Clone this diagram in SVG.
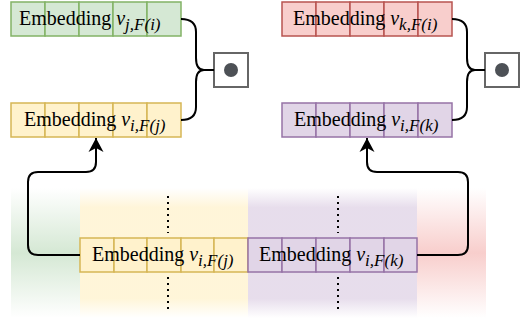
<svg xmlns="http://www.w3.org/2000/svg" width="526" height="320" viewBox="0 0 526 320">
<defs>
<style>
.lbl{font-family:"Liberation Serif","Times New Roman","DejaVu Serif",serif;font-size:20px;fill:#000}
.it{font-style:italic}
.sub{font-style:italic;font-size:17px}
.cell{stroke-width:1.5}
.g{fill:#d5e8d4;stroke:#82b366}
.y{fill:#fff2cc;stroke:#d6b656}
.r{fill:#f8cecc;stroke:#b85450}
.p{fill:#e1d5e7;stroke:#9673a6}
.conn{fill:none;stroke:#000;stroke-width:2}
.dots{fill:none;stroke:#000;stroke-width:2;stroke-dasharray:2 4}
.box{fill:#fff;stroke:#666;stroke-width:2}
.dot{fill:#4d5156}
</style>
<linearGradient id="gG" x1="0" y1="0" x2="0" y2="1">
<stop offset="0" stop-color="#d5e8d4" stop-opacity="0"/>
<stop offset="0.5" stop-color="#d5e8d4" stop-opacity="1"/>
<stop offset="1" stop-color="#d5e8d4" stop-opacity="0"/>
</linearGradient>
<linearGradient id="gR" x1="0" y1="0" x2="0" y2="1">
<stop offset="0" stop-color="#f8cecc" stop-opacity="0"/>
<stop offset="0.5" stop-color="#f8cecc" stop-opacity="1"/>
<stop offset="1" stop-color="#f8cecc" stop-opacity="0"/>
</linearGradient>
<linearGradient id="gY" x1="0" y1="0" x2="0" y2="1">
<stop offset="0" stop-color="#fff2cc" stop-opacity="0"/>
<stop offset="0.15" stop-color="#fff2cc" stop-opacity="0.75"/>
<stop offset="0.85" stop-color="#fff2cc" stop-opacity="0.75"/>
<stop offset="1" stop-color="#fff2cc" stop-opacity="0"/>
</linearGradient>
<linearGradient id="gP" x1="0" y1="0" x2="0" y2="1">
<stop offset="0" stop-color="#e1d5e7" stop-opacity="0"/>
<stop offset="0.15" stop-color="#e1d5e7" stop-opacity="0.8"/>
<stop offset="0.85" stop-color="#e1d5e7" stop-opacity="0.8"/>
<stop offset="1" stop-color="#e1d5e7" stop-opacity="0"/>
</linearGradient>
<marker id="arrow" viewBox="0 0 16 16" refX="15" refY="8" markerWidth="16" markerHeight="16" markerUnits="userSpaceOnUse" orient="auto">
<path d="M15,8 L1,0.5 L5,8 L1,15.5 Z" fill="#000"/>
</marker>
</defs>

<g id="bands">
<rect x="11" y="188" width="69" height="130" fill="url(#gG)"/>
<rect x="80" y="188" width="168" height="130" fill="url(#gY)"/>
<rect x="248" y="188" width="169" height="130" fill="url(#gP)"/>
<rect x="417" y="188" width="69" height="130" fill="url(#gR)"/>
</g>

<g id="node-green">
<rect class="cell g" x="11" y="2" width="34" height="34"/>
<rect class="cell g" x="45" y="2" width="34" height="34"/>
<rect class="cell g" x="79" y="2" width="34" height="34"/>
<rect class="cell g" x="113" y="2" width="34" height="34"/>
<rect class="cell g" x="147" y="2" width="34" height="34"/>
<text class="lbl" font-family="Liberation Serif, serif" x="19" y="25">Embedding <tspan class="it">v</tspan><tspan class="sub" dy="4.5">j,F(i)</tspan></text>
</g>

<g id="node-yellow-top">
<rect class="cell y" x="11" y="103" width="34" height="34"/>
<rect class="cell y" x="45" y="103" width="34" height="34"/>
<rect class="cell y" x="79" y="103" width="34" height="34"/>
<rect class="cell y" x="113" y="103" width="34" height="34"/>
<rect class="cell y" x="147" y="103" width="34" height="34"/>
<text class="lbl" font-family="Liberation Serif, serif" x="24" y="126">Embedding <tspan class="it">v</tspan><tspan class="sub" dy="4.5">i,F(j)</tspan></text>
</g>

<g id="node-red">
<rect class="cell r" x="282" y="2" width="34" height="34"/>
<rect class="cell r" x="316" y="2" width="34" height="34"/>
<rect class="cell r" x="350" y="2" width="34" height="34"/>
<rect class="cell r" x="384" y="2" width="34" height="34"/>
<rect class="cell r" x="418" y="2" width="34" height="34"/>
<text class="lbl" font-family="Liberation Serif, serif" x="293" y="25">Embedding <tspan class="it">v</tspan><tspan class="sub" dy="4.5">k,F(i)</tspan></text>
</g>

<g id="node-purple-top">
<rect class="cell p" x="282" y="103" width="34" height="34"/>
<rect class="cell p" x="316" y="103" width="34" height="34"/>
<rect class="cell p" x="350" y="103" width="34" height="34"/>
<rect class="cell p" x="384" y="103" width="34" height="34"/>
<rect class="cell p" x="418" y="103" width="34" height="34"/>
<text class="lbl" font-family="Liberation Serif, serif" x="294" y="126">Embedding <tspan class="it">v</tspan><tspan class="sub" dy="4.5">i,F(k)</tspan></text>
</g>

<g id="node-yellow-bottom">
<rect class="cell y" x="80" y="238" width="34" height="34"/>
<rect class="cell y" x="114" y="238" width="33" height="34"/>
<rect class="cell y" x="147" y="238" width="34" height="34"/>
<rect class="cell y" x="181" y="238" width="33" height="34"/>
<rect class="cell y" x="214" y="238" width="34" height="34"/>
<text class="lbl" font-family="Liberation Serif, serif" x="92" y="261">Embedding <tspan class="it">v</tspan><tspan class="sub" dy="4.5">i,F(j)</tspan></text>
</g>

<g id="node-purple-bottom">
<rect class="cell p" x="248" y="238" width="34" height="34"/>
<rect class="cell p" x="282" y="238" width="34" height="34"/>
<rect class="cell p" x="316" y="238" width="34" height="34"/>
<rect class="cell p" x="350" y="238" width="34" height="34"/>
<rect class="cell p" x="384" y="238" width="33" height="34"/>
<text class="lbl" font-family="Liberation Serif, serif" x="259" y="261">Embedding <tspan class="it">v</tspan><tspan class="sub" dy="4.5">i,F(k)</tspan></text>
</g>

<g id="op-left">
<rect class="box" x="214" y="53" width="34" height="34"/>
<circle class="dot" cx="231" cy="70" r="7"/>
</g>

<g id="op-right">
<rect class="box" x="485" y="53" width="34" height="34"/>
<circle class="dot" cx="502" cy="70" r="7"/>
</g>

<g id="connectors">
<path class="conn" d="M181,19 Q196,19 196,32 V58 Q196,70 204,70 H214 M204,70 Q196,70 196,82 V107 Q196,120 181,120"/>
<path class="conn" d="M452,19 Q467,19 467,32 V58 Q467,70 475,70 H485 M475,70 Q467,70 467,82 V107 Q467,120 452,120"/>
<path class="conn" d="M80,255 H38 Q28,255 28,245 V182 Q28,172 38,172 H86 Q96,172 96,162 V138" marker-end="url(#arrow)"/>
<path class="conn" d="M417,255 H458 Q468,255 468,245 V182 Q468,172 458,172 H377 Q367,172 367,162 V138" marker-end="url(#arrow)"/>
<path class="dots" d="M168,196 V233 M168,277 V312 M338,196 V233 M338,277 V312"/>
</g>
</svg>
